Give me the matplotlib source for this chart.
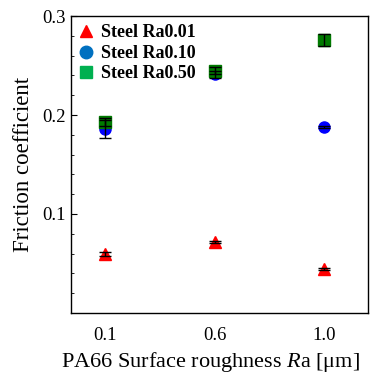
import numpy as np
import matplotlib
matplotlib.use('Agg')
import matplotlib.pyplot as plt
from matplotlib.lines import Line2D
from matplotlib.ticker import MultipleLocator

plt.rcParams['font.family'] = ['Liberation Serif', 'DejaVu Serif']
plt.rcParams['mathtext.fontset'] = 'custom'
plt.rcParams['mathtext.it'] = 'Liberation Serif:italic'
plt.rcParams['mathtext.rm'] = 'Liberation Serif'

#----- Data -----#

roughness	= ['0.1', '0.6', '1.0']
labels		= ['Steel Ra0.01', 'Steel Ra0.10', 'Steel Ra0.50']

mu_001		= [0.060, 0.072, 0.044]
err_001		= [0.002, 0.001, 0.001]
mu_010		= [0.186, 0.241, 0.188]
err_010		= [0.009, 0.004, 0.001]
mu_050		= [0.193, 0.245, 0.276]
err_050		= [0.004, 0.004, 0.006]

#----- Plot -----#

fig = plt.figure(figsize=(3.71, 3.83), dpi=100)
ax = fig.add_axes([0.191, 0.183, 0.801, 0.775])

x = np.arange(len(roughness))

series = [
	(mu_001, err_001, '^', '#ff0000', '#ff0000'),
	(mu_010, err_010, 'o', '#0000ff', '#0070c0'),
	(mu_050, err_050, 's', '#007a00', '#00b050'),
]

handles = []
for (mu, err, mk, col, legcol), lab in zip(series, labels):
	ax.plot(x, mu, ls='none', marker=mk, ms=8, color=col, mec=col, zorder=2)
	ax.errorbar(x, mu, yerr=err, fmt='none', ecolor='black', elinewidth=1,
			capsize=4, capthick=1, zorder=3)
	handles.append(Line2D([], [], ls='none', marker=mk, ms=9, color=legcol, mec=legcol, label=lab))

ax.legend(handles=handles, loc='upper left', frameon=False,
		prop={'weight': 'bold', 'size': 13}, handletextpad=0.4,
		borderaxespad=0.05, labelspacing=0.2, handlelength=0.8)

ax.set_xlim(-0.31, 2.40)
ax.set_ylim(0, 0.3)
ax.set_xticks(x)
ax.set_xticklabels(roughness)
ax.yaxis.set_major_locator(MultipleLocator(0.1))
ax.yaxis.set_minor_locator(MultipleLocator(0.02))
ax.set_yticks([0.1, 0.2, 0.3])
ax.set_yticklabels(['0.1', '0.2', '0.3'])

ax.tick_params(axis='y', which='major', direction='in', length=4, labelsize=13.5)
ax.tick_params(axis='y', which='minor', direction='in', length=2)
ax.tick_params(axis='x', which='both', length=0, labelsize=13.5, pad=10)

ax.set_xlabel(r'PA66 Surface roughness $\mathit{R}$a [μm]', fontsize=16)
ax.xaxis.set_label_coords(0.47, -0.125)
ax.set_ylabel('Friction coefficient', fontsize=16.5, labelpad=6)

for sp in ax.spines.values():
	sp.set_linewidth(1)

fig.savefig('out.png', dpi=100)
